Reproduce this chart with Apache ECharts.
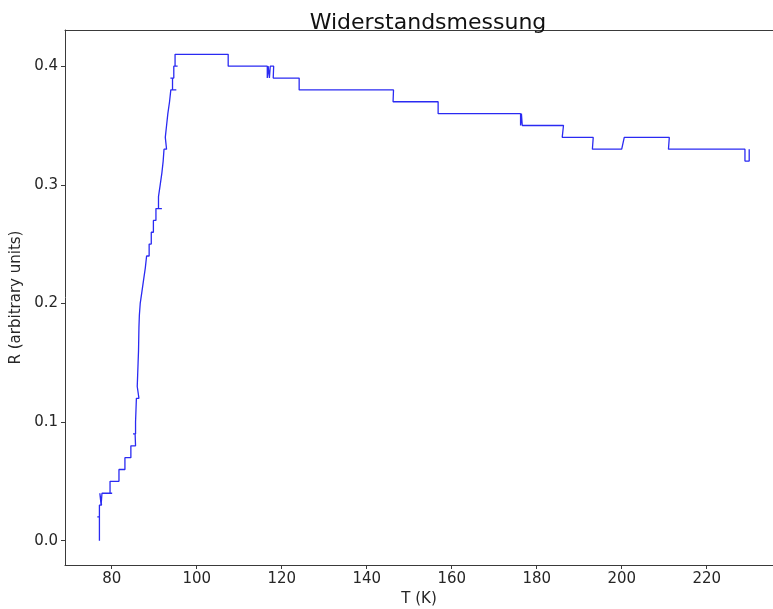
<!DOCTYPE html>
<html>
<head>
<meta charset="utf-8">
<script src="https://cdn.jsdelivr.net/npm/echarts/dist/echarts.min.js"></script>
<style>
  html, body { margin: 0; padding: 0; background: #fff; }
  #chart { width: 773px; height: 609px; }
</style>
</head>
<body>
<div id="chart"></div>
<script>
// Resistance measurement: temperature (K) and resistance (arbitrary units), in recording order
const temperatureK = [
  77.1, 77.1, 76.6, 77.1, 77.1, 76.7, 77.6, 77.2, 77.2, 77.5, 77.5, 77.7, 77.7,
  80.1, 79.6, 79.6, 81.7, 81.7, 83.1, 83.1, 84.5, 84.5, 85.6, 85.3, 85.5,
  85.5, 85.0, 85.6, 85.6, 86.0, 85.3, 85.7, 85.7, 86.0, 85.8, 85.8, 86.4, 86.0,
  86.0, 86.1, 86.1, 86.2, 86.2, 86.3, 86.3, 86.5, 86.35, 86.35, 86.6, 86.4,
  86.4, 86.7, 86.5, 86.5, 86.8, 86.7, 86.7,
  87.1, 87.1, 87.5, 87.5, 87.9, 87.9, 88.2, 88.2, 88.8, 88.8, 89.3, 89.3,
  89.8, 89.8, 90.4, 90.4, 91.8, 91.0, 91.0, 91.4, 91.4, 91.8, 91.8, 92.1,
  92.1, 92.3, 92.3, 92.9, 92.6, 92.6, 92.9, 92.9, 93.2, 93.2, 93.6, 93.6,
  93.9, 93.9, 95.2, 94.3, 94.3, 93.8, 94.6, 94.6, 95.5, 94.9, 94.9,
  107.4, 107.4, 116.6, 116.6, 116.8, 116.8, 117.1, 117.1, 117.3, 117.3,
  118.1, 118.0, 124.1, 124.1, 146.3, 146.2, 156.8, 156.8,
  176.2, 176.2, 176.4, 176.4, 176.6, 176.6, 186.3, 186.0, 193.3, 193.1,
  200.0, 200.6, 211.2, 211.0, 229.0, 229.0, 230.0, 230.0
];
const resistance = [
  0.00, 0.02, 0.02, 0.02, 0.03, 0.03, 0.03, 0.03, 0.04, 0.04, 0.03, 0.03, 0.04,
  0.04, 0.04, 0.05, 0.05, 0.06, 0.06, 0.07, 0.07, 0.08, 0.08, 0.08, 0.08,
  0.09, 0.09, 0.09, 0.10, 0.10, 0.10, 0.10, 0.11, 0.11, 0.11, 0.12, 0.12, 0.12,
  0.13, 0.13, 0.14, 0.14, 0.15, 0.15, 0.16, 0.16, 0.16, 0.17, 0.17, 0.17,
  0.18, 0.18, 0.18, 0.19, 0.19, 0.19, 0.20,
  0.20, 0.21, 0.21, 0.22, 0.22, 0.23, 0.23, 0.24, 0.24, 0.25, 0.25, 0.26,
  0.26, 0.27, 0.27, 0.28, 0.28, 0.28, 0.29, 0.29, 0.30, 0.30, 0.31, 0.31,
  0.32, 0.32, 0.33, 0.33, 0.33, 0.34, 0.34, 0.35, 0.35, 0.36, 0.36, 0.37,
  0.37, 0.38, 0.38, 0.38, 0.39, 0.39, 0.39, 0.40, 0.40, 0.40, 0.41,
  0.41, 0.40, 0.40, 0.39, 0.39, 0.40, 0.40, 0.39, 0.39, 0.40,
  0.40, 0.39, 0.39, 0.38, 0.38, 0.37, 0.37, 0.36,
  0.36, 0.35, 0.35, 0.36, 0.36, 0.35, 0.35, 0.34, 0.34, 0.33,
  0.33, 0.34, 0.34, 0.33, 0.33, 0.32, 0.32, 0.33
];

const xTicks = [80, 100, 120, 140, 160, 180, 200, 220];
const yTicks = [0.0, 0.1, 0.2, 0.3, 0.4];

const titleText = 'Widerstandsmessung';
const xName = 'T (K)';
const yName = 'R (arbitrary units)';

const points = temperatureK.map((t, i) => [t, resistance[i]]);

const FONT = 'DejaVu Sans';
const INK = '#262626';
const SPINE = '#3a3a3a';

// x range chosen so the frame runs off the right edge of the canvas
const X_MIN = 69;
const X_MAX = 235.6;
const Y_MIN = -0.0205;
const Y_MAX = 0.4305;

const chart = echarts.init(document.getElementById('chart'), null, { renderer: 'canvas' });

chart.setOption({
  animation: false,
  backgroundColor: '#ffffff',
  title: {
    text: titleText,
    left: 423,
    top: 7,
    textAlign: 'center',
    textStyle: { fontFamily: FONT, fontSize: 22, fontWeight: 'normal', color: '#111' }
  },
  grid: {
    left: 65,
    right: 0,
    top: 30,
    bottom: 44,
    show: false,
    containLabel: false,
    outerBoundsMode: 'none'
  },
  xAxis: [{
    type: 'value',
    min: X_MIN,
    max: X_MAX,
    position: 'bottom',
    name: xName,
    nameLocation: 'middle',
    nameGap: 25,
    nameTextStyle: { fontFamily: FONT, fontSize: 15, color: INK },
    axisLine: { show: true, onZero: false, lineStyle: { color: SPINE, width: 1 } },
    axisTick: { show: true, length: 4, customValues: xTicks, lineStyle: { color: SPINE } },
    axisLabel: {
      customValues: xTicks,
      margin: 7,
      fontFamily: FONT,
      fontSize: 15,
      color: INK
    },
    splitLine: { show: false }
  }, {
    // top frame line
    type: 'value',
    min: X_MIN,
    max: X_MAX,
    position: 'top',
    axisLine: { show: true, onZero: false, lineStyle: { color: SPINE, width: 1 } },
    axisTick: { show: false },
    axisLabel: { show: false },
    splitLine: { show: false }
  }],
  yAxis: {
    type: 'value',
    min: Y_MIN,
    max: Y_MAX,
    name: yName,
    nameLocation: 'middle',
    nameGap: 35,
    nameRotate: 90,
    nameTextStyle: { fontFamily: FONT, fontSize: 15, color: INK },
    axisLine: { show: true, onZero: false, lineStyle: { color: SPINE, width: 1 } },
    axisTick: { show: true, length: 4, customValues: yTicks, lineStyle: { color: SPINE } },
    axisLabel: {
      customValues: yTicks,
      margin: 7,
      fontFamily: FONT,
      fontSize: 15,
      color: INK,
      formatter: v => v.toFixed(1)
    },
    splitLine: { show: false }
  },
  series: [{
    type: 'line',
    xAxisIndex: 0,
    data: points,
    showSymbol: false,
    symbol: 'none',
    clip: true,
    lineStyle: { color: '#2a2af2', width: 1.3 }
  }]
});
</script>
</body>
</html>
